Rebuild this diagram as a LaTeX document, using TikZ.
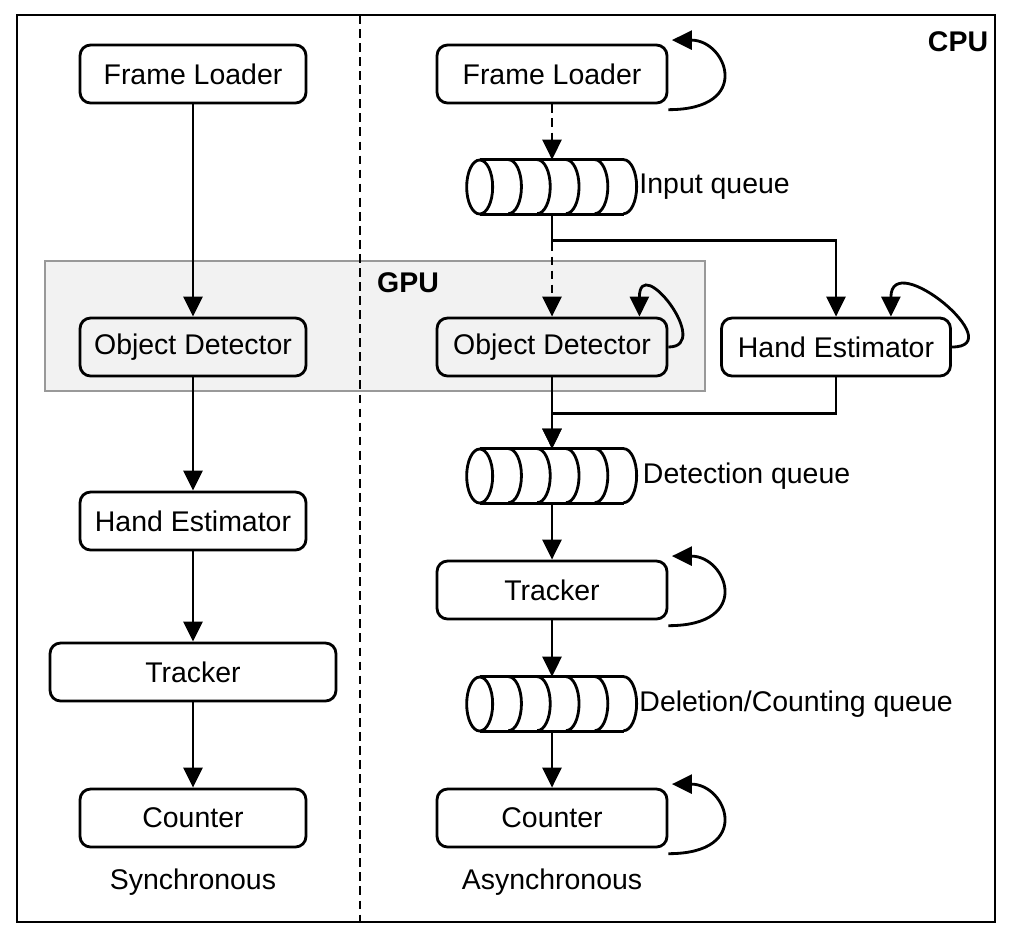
\documentclass[tikz,border=0pt]{standalone}
\usepackage{fontspec}
\setmainfont{Liberation Sans}
\usetikzlibrary{positioning, calc}
\usetikzlibrary{arrows.meta}

\begin{document}
\begin{tikzpicture}[x=0.02cm,y=-0.02cm]
    \tikzset{box/.style = {draw, line width=1.6pt, rounded corners=6pt, minimum height=1.16cm, font=\fontsize{16.2}{19}\selectfont}}
    \tikzset{queue/.style = {minimum width=3.4cm, minimum height=1.08cm, inner sep=0pt}}
    \tikzset{arr/.style = {line width=1.6pt, -{Triangle[length=0.4cm,width=0.38cm]}}}
    \tikzset{lbl/.style = {font=\fontsize{16.2}{19}\selectfont}}

    \useasboundingbox (0,0) rectangle (1020,948);

    % frame and divider
    \draw[line width=1.6pt] (17,15) rectangle (995,922);
    \draw[line width=1.6pt, fill=gray!10, draw=gray!80] (45,261) rectangle (705,391);
    \draw[line width=1.5pt, dash pattern=on 5pt off 3pt] (360,15) -- (360,922);
    \node[lbl, font=\fontsize{16.2}{19}\bfseries] (cpu) at (958,42) {CPU};
    \node[lbl, font=\fontsize{16.2}{19}\bfseries] (gpu) at (408,283) {GPU};

    % synchronous
    \node[box, minimum width=4.52cm] (fl1) at (193,74) {Frame Loader};
    \node[box, minimum width=4.52cm] (od1) at (193,347) {Object Detector};
    \node[box, minimum width=4.52cm] (he1) at (193,521) {Hand Estimator};
    \node[box, minimum width=5.72cm] (tr1) at (193,672) {Tracker};
    \node[box, minimum width=4.52cm] (co1) at (193,818) {Counter};
    \node[lbl] (sync) at (193,882) {Synchronous};

    \draw[arr] (fl1) -- (od1);
    \draw[arr] (od1) -- (he1);
    \draw[arr] (he1) -- (tr1);
    \draw[arr] (tr1) -- (co1);

    % asynchronous
    \node[box, minimum width=4.6cm] (fl2) at (552,74) {Frame Loader};
    \node[queue] (iq) at (552,187) {};
    \node[box, minimum width=4.6cm] (od2) at (552,347) {Object Detector};
    \node[box, minimum width=4.58cm] (he2) at (836,347) {Hand Estimator};
    \node[queue] (dq) at (552,476) {};
    \node[box, minimum width=4.6cm] (tr2) at (552,590) {Tracker};
    \node[queue] (cq) at (552,704) {};
    \node[box, minimum width=4.6cm] (co2) at (552,818) {Counter};
    \node[lbl] (async) at (552,882) {Asynchronous};

    \node[lbl, anchor=west, inner sep=1pt] at (iq.east) {Input queue};
    \node[lbl, anchor=west, inner sep=3pt] at (dq.east) {Detection queue};
    \node[lbl, anchor=west, inner sep=1pt] at (cq.east) {Deletion/Counting queue};

    % queues
    \foreach \q in {iq,dq,cq} {
        \draw[line width=1.6pt] ([xshift=0.26cm]\q.north west) -- ([xshift=-0.26cm]\q.north east);
        \draw[line width=1.6pt] ([xshift=0.26cm]\q.south west) -- ([xshift=-0.26cm]\q.south east);
        \draw[line width=1.6pt] ([xshift=0.26cm]\q.west) ellipse [x radius=0.26cm, y radius=0.54cm];
        \foreach \k in {1,...,5}
            \draw[line width=1.6pt] ([xshift=0.26cm+0.576cm*\k]\q.north west) arc[start angle=90, end angle=-90, x radius=0.26cm, y radius=0.54cm];
    }

    \draw[arr, dash pattern=on 5pt off 3pt] (fl2) -- (iq);
    \draw[arr, dash pattern=on 5pt off 3pt] (iq) -- (od2);
    \draw[arr] (iq.south) -- ++(0,26) -| (he2.north);
    \draw[arr] (od2) -- (dq);
    \draw[arr] (he2.south) |- ($(od2.south)+(0,36)$) -- (dq.north);
    \draw[arr] (dq) -- (tr2);
    \draw[arr] (tr2) -- (cq);
    \draw[arr] (cq) -- (co2);

    % self loops
    \foreach \n in {fl2,tr2,co2}
        \draw[arr] ([yshift=-3pt]\n.south east) .. controls +(1.7cm,0) and +(1.1cm,0) .. ([xshift=2pt,yshift=2pt]\n.north east);
    \draw[arr] (od2.east) .. controls +(0.9cm,0) and +(0,1.3cm) .. ([xshift=-0.58cm]od2.north east);
    \draw[arr] (he2.east) .. controls +(1.2cm,0) and +(0,1.4cm) .. ([xshift=-1.22cm]he2.north east);
\end{tikzpicture}
\end{document}
